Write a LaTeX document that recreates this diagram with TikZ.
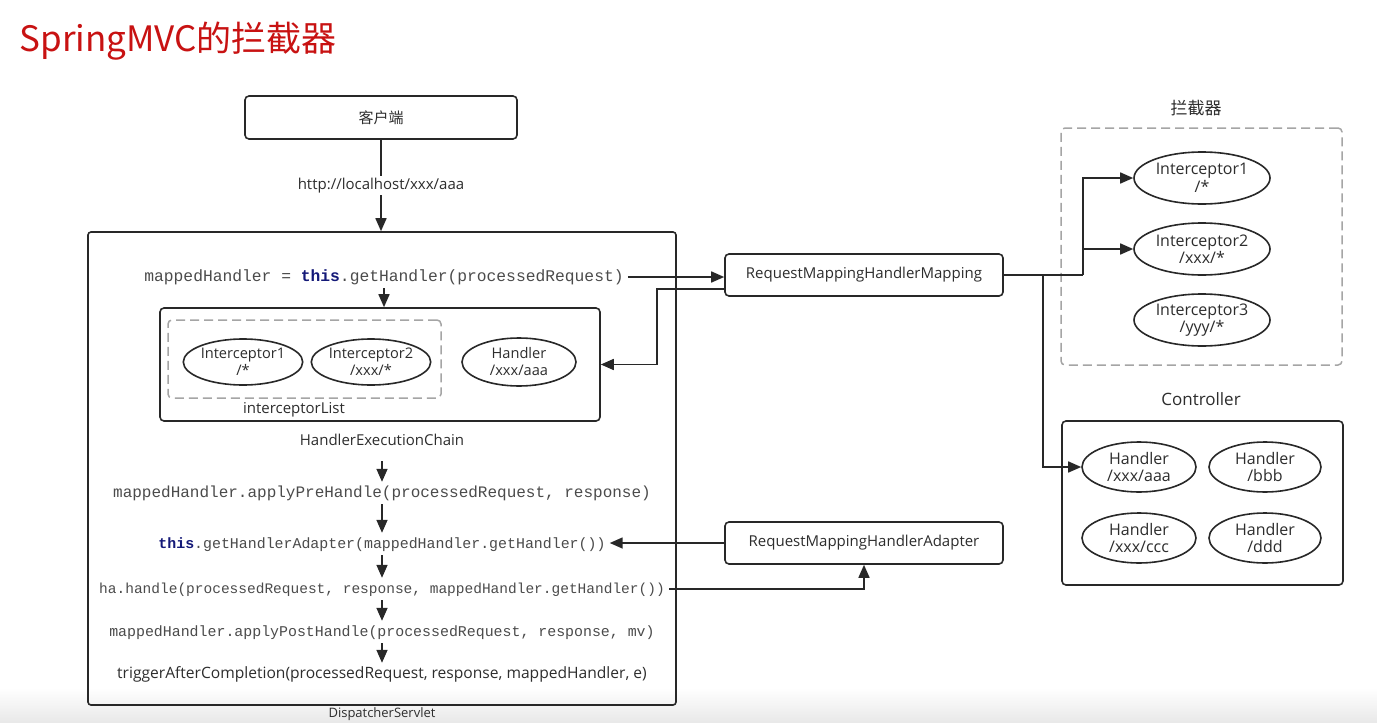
\documentclass[tikz,border=0pt]{standalone}
\usepackage{fontspec}
\setmainfont{Open Sans}
\setmonofont{Liberation Mono}
\newfontfamily\cjk{Noto Sans CJK SC}
\usepackage{xcolor}
\definecolor{linegray}{RGB}{40,40,40}
\definecolor{textgray}{RGB}{45,45,45}
\definecolor{codegray}{RGB}{75,75,75}
\definecolor{thisblue}{RGB}{20,25,120}
\definecolor{titlered}{RGB}{200,18,18}
\definecolor{dashgray}{RGB}{165,165,165}
\usepackage{tikz}
\usetikzlibrary{positioning, arrows.meta, shapes.geometric, calc}

\begin{document}
\begin{tikzpicture}[x=1pt, y=-1pt,
    box/.style={draw=linegray, line width=1.6pt, rounded corners=4pt, font=\fontsize{15}{18}\selectfont, text=textgray},
    dashbox/.style={draw=dashgray, line width=1.5pt, dash pattern=on 9pt off 5pt, rounded corners=4pt},
    oval/.style={ellipse, draw=linegray, line width=1.6pt, inner sep=0pt, align=center, font=\fontsize{16}{17.5}\selectfont, text=textgray},
    smalloval/.style={oval, font=\fontsize{14.6}{17}\selectfont},
    lbl/.style={font=\fontsize{15}{18}\selectfont, text=textgray},
    flowrow/.style={text height=11pt, text depth=3pt, inner sep=4pt},
    code/.style={flowrow, font=\fontsize{#1}{19}\selectfont\ttfamily, text=codegray},
    code/.default=15,
    arr/.style={draw=linegray, line width=1.6pt, -{Triangle[length=13pt, width=11pt]}},
    wire/.style={draw=linegray, line width=1.6pt}]
    \useasboundingbox (0,0) rectangle (1377,723);
    \fill[white] (0,0) rectangle (1377,723);
    \shade[top color=white, bottom color=black!9] (0,688) rectangle (1377,723);

    % title
    \node[text=titlered, font=\cjk\fontsize{35}{40}\selectfont, anchor=west] (title) at (16,41) {SpringMVC的拦截器};

    % client and request
    \node[box, minimum width=272, minimum height=43] (client) at (381,117.5) {\cjk 客户端};
    \node[box, rounded corners=3pt, minimum width=588, minimum height=473] (disp) at (382,468.5) {};
    \draw[arr] (client) -- (client |- disp.north)
      node[midway, fill=white, lbl, inner sep=2pt] (url) {http://localhost/xxx/aaa};
    \node[lbl, font=\fontsize{13}{15}\selectfont, inner sep=1pt] (displbl) at (382,714) {DispatcherServlet};

    % getHandler and the execution chain
    \node[code=16.3] (map) at (384,277) {mappedHandler = \textcolor{thisblue}{\bfseries this}.getHandler(processedRequest)};
    \node[box, minimum width=440, minimum height=113] (hec) at (380,364.5) {};
    \node[dashbox, minimum width=273, minimum height=78] (ilist) at (304.5,359) {};
    \node[smalloval, minimum width=114, minimum height=46] (li1) at (243,362) {Interceptor1\\/*};
    \node[smalloval, minimum width=116, minimum height=46] (li2) at (371,362) {Interceptor2\\/xxx/*};
    \node[smalloval, minimum width=114, minimum height=48] (lh) at (519,362) {Handler\\/xxx/aaa};
    \node[lbl] (ilistlbl) at (294,410) {interceptorList};
    \node[lbl, flowrow] (heclbl) at (382,441) {HandlerExecutionChain};
    \draw[arr] (map.south) -- (map.south |- hec.north);

    % call sequence
    \node[code=16] (pre) at (382,493) {mappedHandler.applyPreHandle(processedRequest, response)};
    \node[code=14.9] (gha) at (382,544) {\textcolor{thisblue}{\bfseries this}.getHandlerAdapter(mappedHandler.getHandler())};
    \node[code=14.5] (ha) at (382,589) {ha.handle(processedRequest, response, mappedHandler.getHandler())};
    \node[code=14.9] (post) at (382,632) {mappedHandler.applyPostHandle(processedRequest, response, mv)};
    \node[lbl, flowrow, font=\fontsize{15.6}{18}\selectfont] (trig) at (382,674) {triggerAfterCompletion(processedRequest, response, mappedHandler, e)};
    \draw[arr, shorten <=9pt] (heclbl) -- (pre);
    \draw[arr] (pre) -- (gha);
    \draw[arr] (gha) -- (ha);
    \draw[arr] (ha) -- (post);
    \draw[arr] (post) -- (trig);

    % handler mapping and adapter
    \node[box, minimum width=278, minimum height=42] (rmhm) at (864,275) {RequestMappingHandlerMapping};
    \node[box, minimum width=278, minimum height=42] (rmha) at (864,543) {RequestMappingHandlerAdapter};
    \draw[arr] (map.east) -- (map.east -| rmhm.west);
    \draw[arr] ([yshift=-14pt]rmhm.west) -- ++(-67,0) |- (hec.east);
    \draw[arr] (rmha.west) -- (rmha.west -| gha.east);
    \draw[arr] (ha.east) -| (rmha.south);

    % interceptors
    \node[lbl, font=\cjk\fontsize{17}{20}\selectfont] (icptlbl) at (1196,108) {拦截器};
    \node[dashbox, minimum width=281, minimum height=237] (icptbox) at (1201.5,246.5) {};
    \node[oval, minimum width=136, minimum height=52] (ri1) at (1202,178) {Interceptor1\\/*};
    \node[oval, minimum width=136, minimum height=52] (ri2) at (1202,249) {Interceptor2\\/xxx/*};
    \node[oval, minimum width=136, minimum height=52] (ri3) at (1202,320) {Interceptor3\\/yyy/*};

    % controller
    \node[lbl, font=\fontsize{17}{20}\selectfont] (ctrllbl) at (1201,399) {Controller};
    \node[box, minimum width=281, minimum height=164] (ctrl) at (1202.5,503) {};
    \node[oval, minimum width=114, minimum height=50] (h1) at (1139,467) {Handler\\/xxx/aaa};
    \node[oval, minimum width=112, minimum height=50] (h2) at (1265,467) {Handler\\/bbb};
    \node[oval, minimum width=114, minimum height=50] (h3) at (1139,538) {Handler\\/xxx/ccc};
    \node[oval, minimum width=112, minimum height=50] (h4) at (1265,538) {Handler\\/ddd};

    % mapping fans out
    \coordinate (fork) at (1083,275);
    \coordinate (drop) at (1043,275);
    \draw[wire] (rmhm.east) -- (fork);
    \draw[arr] (fork) |- (ri1.west);
    \draw[arr] (fork) |- (ri2.west);
    \draw[arr] (drop) |- (h1.west);
\end{tikzpicture}
\end{document}
